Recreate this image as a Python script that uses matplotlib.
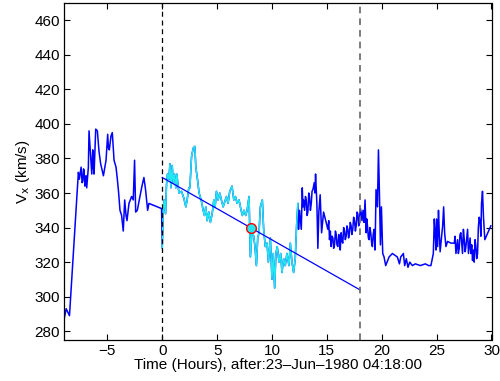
import numpy as np
import matplotlib
matplotlib.use('Agg')
import matplotlib.pyplot as plt

# Vx series (hours after 23-Jun-1980 04:18:00, km/s)
t_pre = [-8.94, -8.75, -8.6, -8.45, -7.64, -7.55, -7.48, -7.39, -7.3, -7.24, -7.17, -7.12,
         -7.05, -7.0, -6.94, -6.88, -6.8, -6.73, -6.67, -6.58, -6.5, -6.42, -6.33, -6.27,
         -6.21, -6.06, -5.91, -5.76, -5.61, -5.36, -5.12, -4.97, -4.9,
         -4.82, -4.67, -4.55, -4.39, -4.21, -4.09, -3.97, -3.85, -3.7, -3.55, -3.42, -3.3,
         -3.21, -3.12, -3.03, -2.79, -2.64, -2.52, -2.42, -2.27, -2.12, -1.88, -1.67, -1.52,
         -1.33, -1.21, -0.06]
v_pre = [287, 293, 291, 289, 372, 368, 371, 375, 366, 367, 374, 373,
         364, 366, 370, 363, 369, 375, 396, 387, 380, 371, 385, 375,
         371, 397, 396, 384, 377, 370, 379, 394, 386,
         385, 393, 395, 379, 375, 368, 360, 350, 347, 338, 356, 347,
         344, 349, 354, 358, 356, 379, 349, 350, 355, 363, 369, 362,
         350, 354, 351]

t_seg = [0.0, 0.09, 0.18, 0.3, 0.39, 0.48, 0.61, 0.7, 0.79, 0.91, 1.0, 1.12, 1.24, 1.33,
         1.52, 1.76, 1.97, 2.15, 2.27, 2.42, 2.52, 2.67, 2.82, 2.97, 3.06, 3.21, 3.36, 3.55,
         3.73, 3.85, 3.97, 4.09, 4.24, 4.39, 4.55, 4.7, 4.82, 4.94, 5.09, 5.24, 5.39, 5.55,
         5.7, 5.85, 6.0, 6.15, 6.36, 6.52, 6.67, 6.82, 7.0, 7.12, 7.3, 7.45, 7.61, 7.73, 7.91,
         8.03, 8.18, 8.33, 8.45, 8.58, 8.7, 8.82, 8.94, 9.12, 9.24, 9.39, 9.55, 9.67, 9.85,
         10.0, 10.12, 10.24, 10.36, 10.48, 10.64, 10.79, 10.91, 11.06, 11.21, 11.36, 11.55,
         11.67, 11.82, 11.97, 12.12, 12.24, 12.36]
v_seg = [328, 350, 356, 348, 365, 371, 368, 377, 363, 376, 366, 371, 363, 371,
         360, 361, 357, 352, 356, 363, 363, 381, 386, 387, 375, 368, 360, 356,
         350, 347, 352, 344, 349, 343, 348, 356, 352, 361, 356, 360, 356, 352,
         355, 358, 354, 361, 364, 356, 358, 354, 356, 352, 347, 350, 347, 350, 358,
         323, 339, 335, 329, 318, 334, 337, 352, 356, 339, 329, 331, 320, 334,
         310, 325, 305, 325, 329, 320, 325, 314, 322, 318, 325, 318,
         331, 320, 314, 322, 341, 354]

t_post = [12.42, 12.5, 12.55, 12.62, 12.67, 12.76, 12.82, 12.88, 12.97, 13.05, 13.12, 13.2,
          13.27, 13.35, 13.42, 13.5, 13.58, 13.65, 13.73, 13.85, 13.91,
          13.97, 14.09, 14.18, 14.27, 14.39, 14.52, 14.7, 15.09, 15.17, 15.24, 15.32, 15.39,
          15.47, 15.55, 15.62, 15.7, 15.78, 15.85, 15.92, 16.0, 16.08, 16.15, 16.22, 16.3,
          16.38, 16.45, 16.53, 16.61, 16.68, 16.76, 16.83, 16.91, 16.98, 17.06, 17.13, 17.21,
          17.28, 17.36, 17.44, 17.52, 17.6, 17.67, 17.75, 17.82, 17.9, 17.97, 18.05, 18.12,
          18.2, 18.3, 18.39, 18.48, 18.58, 18.64, 18.7, 18.78, 18.85, 18.92, 19.0, 19.08,
          19.15, 19.22, 19.3,
          19.39, 19.48, 19.61, 19.7, 19.79, 19.88, 19.97, 20.09, 20.21, 20.36, 20.67, 20.97,
          21.42, 21.61, 21.73, 21.97, 22.09, 22.24, 22.39, 22.55, 22.79, 23.06, 23.52, 23.97,
          24.27, 24.48, 24.7, 24.79, 24.88, 24.94, 25.0, 25.09, 25.17, 25.24, 25.32, 25.39,
          25.47, 25.55, 25.64, 25.73, 25.85,
          26.0, 26.3, 26.61, 26.68, 26.76, 26.83, 26.91, 26.98, 27.06, 27.13, 27.21, 27.28,
          27.36, 27.44, 27.52, 27.6, 27.67, 27.75, 27.82, 27.9, 27.97, 28.05,
          28.12, 28.2, 28.27, 28.35, 28.42, 28.5, 28.58, 28.65, 28.73, 28.8, 28.88, 28.97,
          29.03, 29.09, 29.18, 29.27, 29.39, 29.94]
v_post = [339, 350, 347, 342, 339, 363, 352, 356, 350, 358, 356, 347,
          349, 360, 358, 350, 354, 361, 362, 366, 360,
          371, 354, 328, 349, 359, 337, 349, 339, 344, 333, 338, 329,
          335, 334, 328, 330, 338, 336, 330, 329, 336, 333, 327, 337,
          332, 331, 340, 338, 333, 335, 341, 339, 334, 337, 343, 341,
          336, 339, 346, 344, 338, 341, 349, 348, 341, 345, 351, 349,
          344, 350, 343, 356, 337, 345, 341, 334, 333, 340, 337, 331,
          329, 336, 339,
          327, 362, 352, 385, 360, 330, 352, 325, 323, 318, 323, 325,
          323, 319, 323, 325, 318, 322, 317, 320, 318, 319, 318, 319,
          318, 318, 325, 345, 335, 327, 345, 329, 350, 337, 326, 331,
          336, 341, 352, 337, 329,
          332, 331, 331, 335, 325, 329, 333, 325, 328, 336, 337, 331,
          325, 339, 333, 326, 329, 334, 339, 325, 329, 334,
          325, 330, 321, 327, 320, 333, 329, 322, 325, 340, 346, 343,
          335, 354, 361, 346, 333, 341]

# linear fit across the interval and its mid point
fit_t = [0, 18]
fit_v = [369, 304]
mid_t = 8.12
mid_v = 339.6
bounds = [0, 18]

plt.rcParams['font.family'] = ['Liberation Sans', 'DejaVu Sans']
plt.rcParams['font.size'] = 11

fig = plt.figure(figsize=(5, 3.81), dpi=100)
ax = fig.add_axes([0.128, 0.108, 0.855, 0.884])

t_all = t_pre + t_seg + t_post
v_all = v_pre + v_seg + v_post
ax.plot(t_all, v_all, color='#0000ff', lw=1.1)
ax.plot(t_seg, v_seg, color='#20e8f0', lw=1.1)
ax.plot(fit_t, fit_v, color='#0000ff', lw=0.9)
ax.plot(mid_t, mid_v, 'o', ms=7, mfc='#20e8f0', mec='red', mew=1)

ax.axvline(bounds[0], color='black', ls='--', lw=0.9, dashes=(4, 3))
ax.axvline(bounds[1], color='0.4', ls='--', lw=1.2, dashes=(4, 3))

ax.set_xlim(-8.95, 30)
ax.set_ylim(275, 470)
ax.set_xticks([-5, 0, 5, 10, 15, 20, 25, 30])
ax.set_yticks(np.arange(280, 461, 20))
ax.tick_params(direction='in', top=True, right=True, length=4, width=0.8, pad=3)
for s in ax.spines.values():
    s.set_linewidth(0.9)

ax.set_xlabel('Time (Hours), after:23\u2013Jun\u20131980 04:18:00', labelpad=0)
ax.set_ylabel('V$_\\mathrm{x}$ (km/s)', labelpad=2)

fig.savefig('out.png', dpi=100)
